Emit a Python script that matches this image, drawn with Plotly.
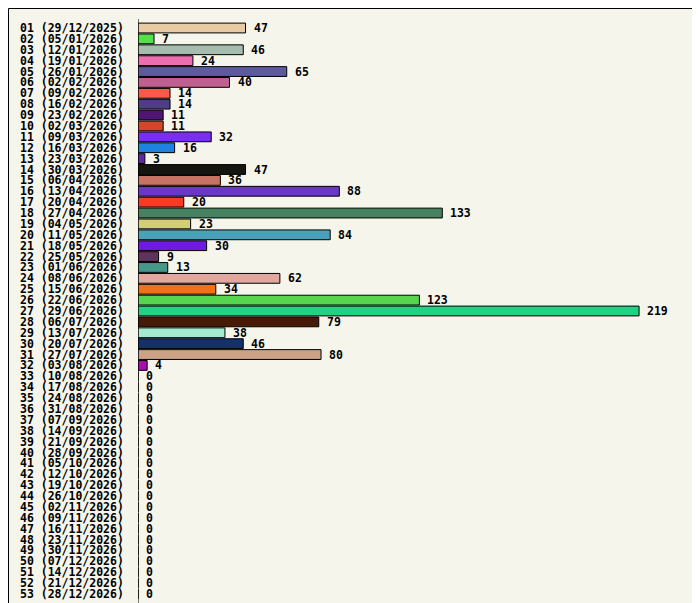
import plotly.graph_objects as go

weeks = ["29/12/2025", "05/01/2026", "12/01/2026", "19/01/2026", "26/01/2026", "02/02/2026",
         "09/02/2026", "16/02/2026", "23/02/2026", "02/03/2026", "09/03/2026", "16/03/2026",
         "23/03/2026", "30/03/2026", "06/04/2026", "13/04/2026", "20/04/2026", "27/04/2026",
         "04/05/2026", "11/05/2026", "18/05/2026", "25/05/2026", "01/06/2026", "08/06/2026",
         "15/06/2026", "22/06/2026", "29/06/2026", "06/07/2026", "13/07/2026", "20/07/2026",
         "27/07/2026", "03/08/2026", "10/08/2026", "17/08/2026", "24/08/2026", "31/08/2026",
         "07/09/2026", "14/09/2026", "21/09/2026", "28/09/2026", "05/10/2026", "12/10/2026",
         "19/10/2026", "26/10/2026", "02/11/2026", "09/11/2026", "16/11/2026", "23/11/2026",
         "30/11/2026", "07/12/2026", "14/12/2026", "21/12/2026", "28/12/2026"]
counts = [47, 7, 46, 24, 65, 40, 14, 14, 11, 11, 32, 16, 3, 47, 36, 88, 20, 133, 23, 84, 30, 9,
          13, 62, 34, 123, 219, 79, 38, 46, 80, 4] + [0] * 21
colors = ["#e8cba4", "#55e04a", "#a6bcae", "#ec6eae", "#5e5a9e", "#c06090", "#fa5a4a", "#4e3e86",
          "#4e1672", "#d4462a", "#7a2ef2", "#1e82e0", "#5e2aa2", "#161610", "#c67264", "#6a38c8",
          "#fa3a26", "#468262", "#d2ce76", "#4aa2ba", "#6e1ae2", "#64305e", "#46968a", "#e2a8a0",
          "#f07218", "#56d64e", "#22d282", "#461a06", "#a4eace", "#16306e", "#cca286", "#aa0eaa"] + ["#000000"] * 21

labels = [f"{i + 1:02d} ({w})" for i, w in enumerate(weeks)]
font = dict(family="DejaVu Sans Mono", size=11.5, color="#000000")

fig = go.Figure(go.Bar(
    x=counts, y=labels, orientation="h",
    marker=dict(color=colors, line=dict(color="#000000", width=1)),
    width=0.9, hoverinfo="x+y",
))

L, R, T, B = 130, 3, 11, 8
pw = 700 - L - R
ph = 603 - T - B

annotations = []
for lab, c in zip(labels, counts):
    annotations.append(dict(x=(10 - L) / pw, xref="paper", y=lab, yref="y", xanchor="left",
                            text=f"<b>{lab}</b>", showarrow=False, font=font))
    annotations.append(dict(x=c, xref="x", y=lab, yref="y", xanchor="left", xshift=6,
                            text=f"<b>{c}</b>", showarrow=False, font=font))

fig.update_layout(
    width=700, height=603,
    margin=dict(l=L, r=R, t=T, b=B, autoexpand=False),
    paper_bgcolor="#f5f5eb", plot_bgcolor="#f5f5eb",
    showlegend=False, bargap=0.1,
    xaxis=dict(range=[0, pw / 2.288], visible=False, fixedrange=True),
    yaxis=dict(autorange="reversed", showticklabels=False, ticks="", showgrid=False,
               zeroline=False, automargin=False),
    annotations=annotations,
    shapes=[
        dict(type="line", xref="x", yref="paper", x0=0, x1=0, y0=0, y1=1,
             line=dict(color="#000000", width=1)),
        dict(type="rect", xref="paper", yref="paper",
             x0=(0.5 - L) / pw, x1=(699.5 - L) / pw,
             y0=-(B - 0.5) / ph, y1=1 + (T - 0.5) / ph,
             line=dict(color="#000000", width=1)),
    ],
)
fig.write_html("out.html")
